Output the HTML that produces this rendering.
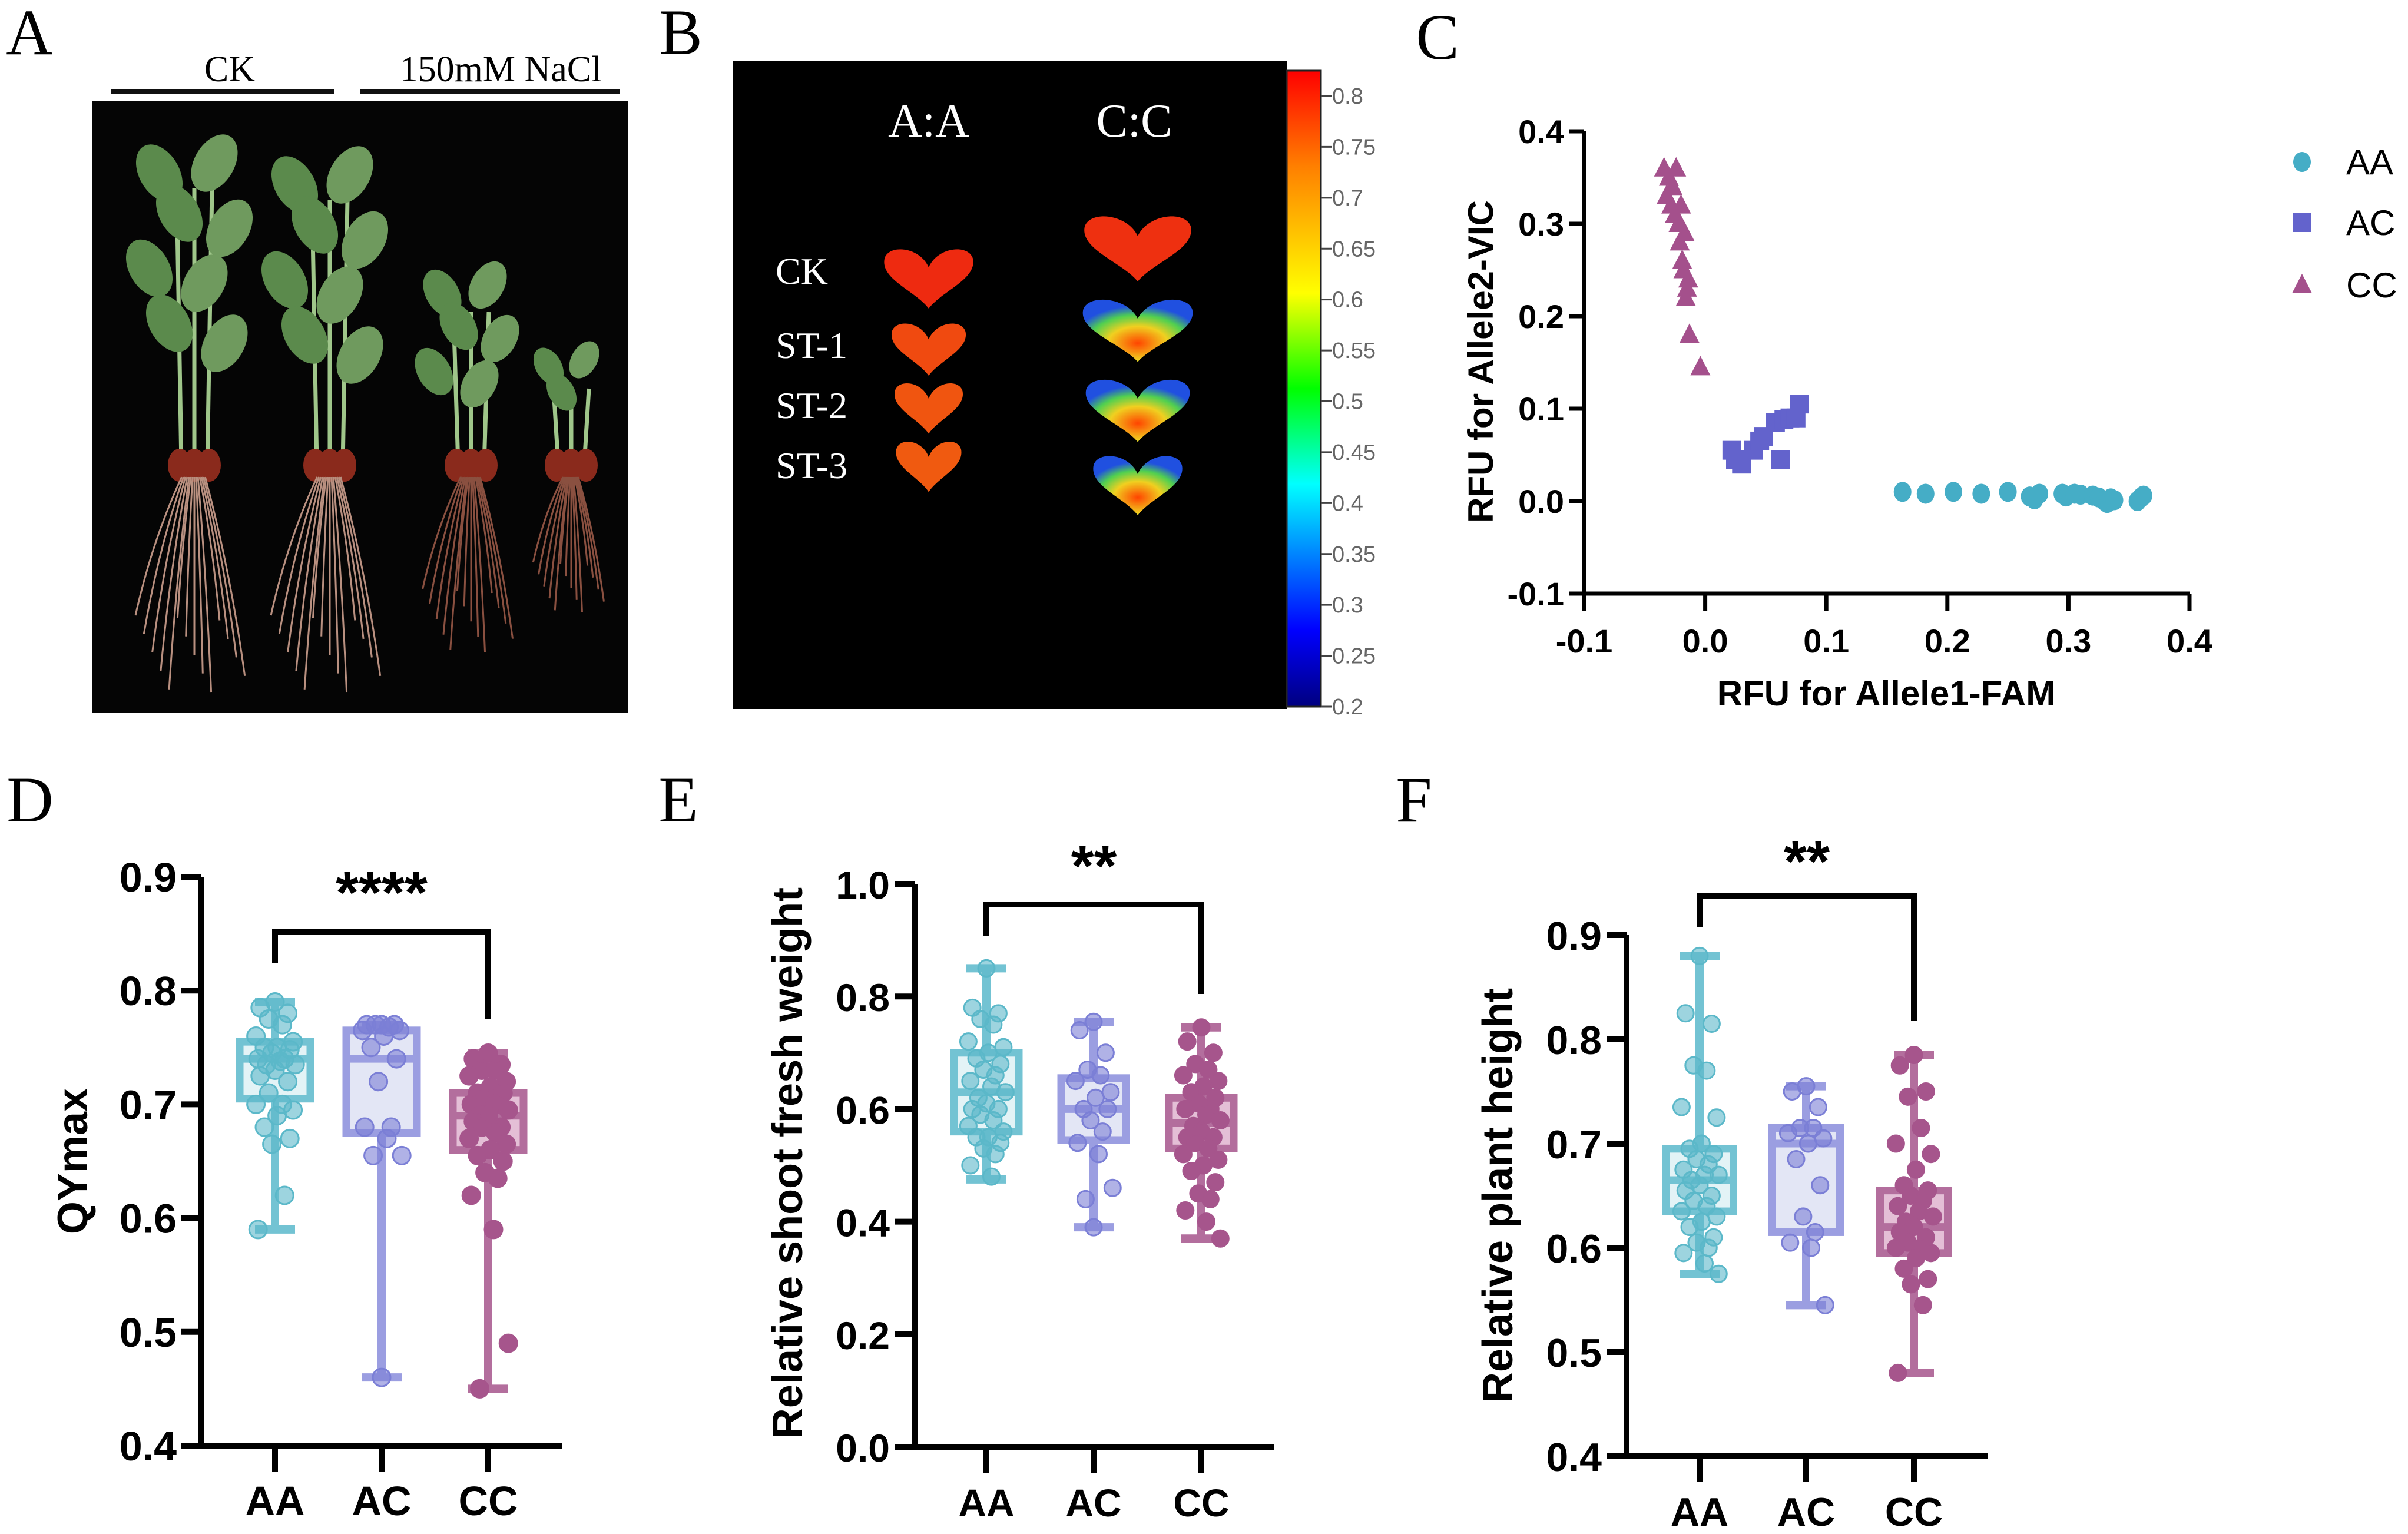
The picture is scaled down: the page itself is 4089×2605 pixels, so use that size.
<!DOCTYPE html>
<html><head><meta charset="utf-8"><style>
html,body{margin:0;padding:0;background:#fff}
svg{display:block}
text{font-family:"Liberation Sans",Arial,sans-serif}
.serif{font-family:"Liberation Serif","Times New Roman",serif}
</style></head><body>
<svg id="fig" width="4089" height="2605" viewBox="0 0 4089 2605" xmlns="http://www.w3.org/2000/svg">
<rect width="4089" height="2605" fill="#fff"/>
<defs>
<clipPath id="photoClip"><rect x="156" y="171" width="911" height="1039"/></clipPath>
<linearGradient id="jet" x1="0" y1="1" x2="0" y2="0">
<stop offset="0" stop-color="#00007f"/><stop offset="0.12" stop-color="#0000ff"/><stop offset="0.35" stop-color="#00ffff"/><stop offset="0.5" stop-color="#00ff00"/><stop offset="0.65" stop-color="#ffff00"/><stop offset="0.85" stop-color="#ff7f00"/><stop offset="1" stop-color="#ff0000"/>
</linearGradient>
<radialGradient id="stleaf" cx="0.5" cy="0.7" r="0.6">
<stop offset="0" stop-color="#ff4400"/><stop offset="0.45" stop-color="#f0d020"/><stop offset="0.75" stop-color="#50d050"/><stop offset="1" stop-color="#2050e0"/>
</radialGradient>
</defs>
<!-- Panel A -->
<g>
<text class="serif" x="50" y="92" font-size="110" text-anchor="middle">A</text>
<text class="serif" x="390" y="138" font-size="62" text-anchor="middle">CK</text>
<line x1="188" y1="155" x2="568" y2="155" stroke="#111" stroke-width="8"/>
<text class="serif" x="850" y="138" font-size="62" text-anchor="middle">150mM NaCl</text>
<line x1="612" y1="155" x2="1053" y2="155" stroke="#111" stroke-width="8"/>
<rect x="156" y="171" width="911" height="1039" fill="#050505"/>
<g id="plants" clip-path="url(#photoClip)"></g>
</g>
<!-- Panel B -->
<g>
<text class="serif" x="1156" y="92" font-size="110" text-anchor="middle">B</text>
<rect x="1245" y="104" width="940" height="1100" fill="#000"/>
<text class="serif" x="1577" y="232" font-size="80" fill="#fff" text-anchor="middle">A:A</text>
<text class="serif" x="1926" y="232" font-size="80" fill="#fff" text-anchor="middle">C:C</text>
<text class="serif" x="1317" y="482" font-size="64" fill="#fff">CK</text>
<text class="serif" x="1317" y="608" font-size="64" fill="#fff">ST-1</text>
<text class="serif" x="1317" y="710" font-size="64" fill="#fff">ST-2</text>
<text class="serif" x="1317" y="812" font-size="64" fill="#fff">ST-3</text>
<g id="leaves"></g>
<rect x="2185" y="120" width="58" height="1080" fill="url(#jet)" stroke="#222" stroke-width="3"/>
<g id="cbticks"></g>
</g>
<g id="panelC">
<text class="serif" x="2441" y="100" font-size="110" text-anchor="middle">C</text>
</g>
<g id="panelD">
<text class="serif" x="51" y="1395" font-size="110" text-anchor="middle">D</text>
</g>
<g id="panelE">
<text class="serif" x="1152" y="1395" font-size="110" text-anchor="middle">E</text>
</g>
<g id="panelF">
<text class="serif" x="2401" y="1395" font-size="110" text-anchor="middle">F</text>
</g>
</svg>
<script>
const aaX=[0.163,0.182,0.205,0.228,0.25,0.268,0.272,0.276,0.295,0.298,0.305,0.31,0.32,0.325,0.33,0.332,0.335,0.338,0.357,0.36,0.362];
const aaY=[0.01,0.008,0.01,0.008,0.01,0.005,0.002,0.008,0.008,0.005,0.008,0.007,0.006,0.004,0.0,-0.002,0.003,0.001,0.0,0.004,0.006];
const acX=[0.022,0.025,0.03,0.04,0.045,0.048,0.058,0.062,0.065,0.07,0.075,0.078];
const acY=[0.055,0.045,0.04,0.055,0.065,0.07,0.085,0.045,0.088,0.09,0.09,0.105];
const ccX=[-0.034,-0.032,-0.03,-0.028,-0.027,-0.025,-0.024,-0.022,-0.021,-0.02,-0.019,-0.018,-0.017,-0.016,-0.015,-0.014,-0.013,-0.004];
const ccY=[0.36,0.33,0.35,0.32,0.34,0.31,0.36,0.30,0.28,0.32,0.26,0.25,0.29,0.22,0.23,0.24,0.18,0.145];
const cTicks=[-0.1,0.0,0.1,0.2,0.3,0.4];
const cTickLabels=["-0.1","0.0","0.1","0.2","0.3","0.4"];
const groups=["AA","AC","CC"];
const dAA=[0.79,0.785,0.78,0.775,0.77,0.76,0.755,0.75,0.75,0.748,0.745,0.74,0.74,0.738,0.735,0.735,0.73,0.725,0.72,0.71,0.70,0.70,0.695,0.69,0.68,0.67,0.665,0.62,0.59];
const dAC=[0.77,0.77,0.77,0.77,0.768,0.765,0.765,0.76,0.75,0.74,0.72,0.68,0.68,0.67,0.655,0.655,0.46];
const dCC=[0.745,0.74,0.735,0.73,0.73,0.725,0.72,0.715,0.71,0.71,0.705,0.70,0.70,0.70,0.695,0.69,0.69,0.685,0.68,0.68,0.675,0.67,0.665,0.66,0.655,0.65,0.64,0.635,0.62,0.59,0.49,0.45];
const dMin=[0.59,0.46,0.45], dQ1=[0.705,0.675,0.66], dMed=[0.74,0.74,0.69], dQ3=[0.755,0.765,0.71], dMax=[0.79,0.77,0.745];
const dTicks=[0.4,0.5,0.6,0.7,0.8,0.9];
const dTickLabels=["0.4","0.5","0.6","0.7","0.8","0.9"];
const eAA=[0.85,0.78,0.77,0.76,0.75,0.72,0.71,0.70,0.69,0.68,0.67,0.66,0.65,0.64,0.63,0.62,0.61,0.60,0.60,0.59,0.58,0.57,0.56,0.55,0.55,0.54,0.53,0.52,0.50,0.48];
const eAC=[0.755,0.74,0.70,0.67,0.66,0.65,0.63,0.62,0.60,0.60,0.58,0.56,0.54,0.52,0.46,0.44,0.39];
const eCC=[0.745,0.72,0.70,0.68,0.67,0.66,0.65,0.64,0.63,0.62,0.61,0.60,0.60,0.59,0.58,0.57,0.56,0.55,0.55,0.54,0.53,0.52,0.51,0.50,0.49,0.47,0.45,0.44,0.42,0.40,0.37];
const eMin=[0.475,0.39,0.37], eQ1=[0.56,0.545,0.53], eMed=[0.63,0.60,0.575], eQ3=[0.70,0.655,0.62], eMax=[0.85,0.755,0.745];
const eTicks=[0.0,0.2,0.4,0.6,0.8,1.0];
const eTickLabels=["0.0","0.2","0.4","0.6","0.8","1.0"];
const fAA=[0.88,0.825,0.815,0.775,0.77,0.735,0.725,0.70,0.695,0.69,0.685,0.68,0.675,0.67,0.67,0.665,0.66,0.655,0.65,0.645,0.64,0.635,0.63,0.625,0.62,0.61,0.605,0.60,0.595,0.585,0.575];
const fAC=[0.755,0.75,0.735,0.715,0.715,0.71,0.705,0.70,0.685,0.66,0.63,0.615,0.605,0.60,0.545];
const fCC=[0.785,0.775,0.75,0.745,0.715,0.70,0.69,0.675,0.66,0.655,0.65,0.645,0.64,0.635,0.63,0.625,0.62,0.615,0.61,0.605,0.60,0.60,0.595,0.59,0.58,0.57,0.565,0.545,0.48];
const fMin=[0.575,0.545,0.48], fQ1=[0.635,0.615,0.595], fMed=[0.665,0.70,0.62], fQ3=[0.695,0.715,0.655], fMax=[0.88,0.755,0.785];
const fTicks=[0.4,0.5,0.6,0.7,0.8,0.9];
const fTickLabels=["0.4","0.5","0.6","0.7","0.8","0.9"];
const cbTicks=[0.8,0.75,0.7,0.65,0.6,0.55,0.5,0.45,0.4,0.35,0.3,0.25,0.2];

const NS="http://www.w3.org/2000/svg";
function mk(tag,attrs,parent){const e=document.createElementNS(NS,tag);for(const k in attrs)e.setAttribute(k,attrs[k]);parent.appendChild(e);return e;}
function txt(s,attrs,parent){const e=mk('text',attrs,parent);e.textContent=s;return e;}

(function(){
 const g=document.getElementById('plants');
 const plants=[{x:330,top:260,s:0.85},{x:560,top:280,s:0.85},{x:800,top:470,s:0.7},{x:970,top:600,s:0.55}];
 plants.forEach((p,i)=>{
  const seedY=790;
  for(let k=-1;k<=1;k++){
   const st=mk('line',{x1:p.x+k*22,y1:seedY,x2:p.x+k*30,y2:p.top+60,stroke:'#9fc68a','stroke-width':7},g);
   
   
  }
  const lf=[[-70,40],[40,20],[-30,120],[70,150],[-90,230],[20,260],[-50,340],[60,380]];
  lf.forEach((o,j)=>{
   const y=p.top+o[1]*p.s; if(y>seedY-120)return;
   const l=mk('ellipse',{cx:p.x+o[0]*p.s,cy:y,rx:40*p.s,ry:62*p.s,fill:j%2?'#6f9a5e':'#5b8a4c',transform:`rotate(${o[0]>0?30:-30} ${p.x+o[0]*p.s} ${y})`},g);
   
   
  });
  for(let k=-1;k<=1;k++){
   const s=mk('ellipse',{cx:p.x+k*25,cy:seedY,rx:20,ry:28,fill:'#8a2a1c'},g);
   
   
  }
  for(let r=0;r<14;r++){
   const dx=(r-7)*12*p.s, len=(300+((r*37)%180))*p.s;
   const rt=mk('path',{d:`M${p.x+dx*0.3},${seedY+20} Q${p.x+dx},${seedY+len*0.5} ${p.x+dx*1.4},${seedY+len}`,stroke:i<2?'#b99080':'#8a5040',fill:'none','stroke-width':3},g);
   
   
  }
 });
})();

(function(){
 const g=document.getElementById('leaves');
 const L=[[1577,474,150,100,'#ee2a10'],[1577,594,125,88,'#f04a10'],[1577,694,115,85,'#f05510'],[1577,793,110,85,'#f05a10'],
          [1932,423,180,110,'#ee3010'],[1932,562,185,105,'url(#stleaf)'],[1932,698,175,105,'url(#stleaf)'],[1932,825,150,100,'url(#stleaf)']];
 L.forEach(l=>{
  const [cx,cy,w,h,f]=l;
  const p=mk('path',{d:`M${cx},${cy+h/2} C${cx-w*0.15},${cy+h*0.2} ${cx-w*0.55},${cy} ${cx-w/2},${cy-h*0.35} C${cx-w*0.45},${cy-h*0.6} ${cx-w*0.1},${cy-h*0.55} ${cx},${cy-h*0.2} C${cx+w*0.1},${cy-h*0.55} ${cx+w*0.45},${cy-h*0.6} ${cx+w/2},${cy-h*0.35} C${cx+w*0.55},${cy} ${cx+w*0.15},${cy+h*0.2} ${cx},${cy+h/2}Z`,fill:f},g);
  
  
 });
 const t=document.getElementById('cbticks');
 const y08=163,y02=1200;
 cbTicks.forEach(v=>{
  const y=y02-(v-0.2)/0.6*(y02-y08);
  const ln=mk('line',{x1:2243,y1:y,x2:2262,y2:y,stroke:'#444','stroke-width':3},t);
  
  
  const tx=txt(String(v),{x:2262,y:y+13,'font-size':38,fill:'#666'},t);
  
  
 });
})();

(function(){
 const g=document.getElementById('panelC');
 const X0=2690,X1=3718,Y0=1008,Y1=223;
 const sx=v=>X0+(v+0.1)/0.5*(X1-X0), sy=v=>Y0-(v+0.1)/0.5*(Y0-Y1);
 const ax=mk('path',{d:`M${X0},${Y1} V${Y0} H${X1}`,stroke:'#000','stroke-width':7,fill:'none'},g);
 
 
 cTicks.forEach((v,i)=>{
  const t1=mk('line',{x1:X0-26,y1:sy(v),x2:X0,y2:sy(v),stroke:'#000','stroke-width':7},g);
  
  
  const l1=txt(cTickLabels[i],{x:X0-34,y:sy(v)+20,'font-size':56,'font-weight':'bold','text-anchor':'end'},g);
  
  
  const t2=mk('line',{x1:sx(v),y1:Y0,x2:sx(v),y2:Y0+30,stroke:'#000','stroke-width':7},g);
  
  
  const l2=txt(cTickLabels[i],{x:sx(v),y:Y0+100,'font-size':56,'font-weight':'bold','text-anchor':'middle'},g);
  
  
 });
 const xt=txt('RFU for Allele1-FAM',{x:3203,y:1198,'font-size':60,'font-weight':'bold','text-anchor':'middle'},g);
 
 
 const yt=txt('RFU for Allele2-VIC',{x:0,y:0,'font-size':60,'font-weight':'bold','text-anchor':'middle',transform:'translate(2535,614) rotate(-90)'},g);
 
 
 const col={AA:'#45adc6',AC:'#6363cc',CC:'#a4508c'};
 function circ(x,y,p){return mk('ellipse',{cx:x,cy:y,rx:15,ry:17,fill:col.AA},p);}
 function sq(x,y,p){return mk('rect',{x:x-16,y:y-16,width:32,height:32,fill:col.AC},p);}
 function tri(x,y,p){return mk('path',{d:`M${x},${y-19} L${x+17},${y+14} L${x-17},${y+14}Z`,fill:col.CC},p);}
 aaX.forEach((v,i)=>{const e=circ(sx(v),sy(aaY[i]),g);});
 acX.forEach((v,i)=>{const e=sq(sx(v),sy(acY[i]),g);});
 ccX.forEach((v,i)=>{const e=tri(sx(v),sy(ccY[i]),g);});
 const legY=[275,378,484], fns=[circ,sq,tri];
 groups.forEach((gname,i)=>{
  const m=fns[i](3909,legY[i],g);
  
  
  const t=txt(gname,{x:3984,y:legY[i]+21,'font-size':60},g);
  
  
 });
})();

const boxCol=[{s:'#5bb9cc',f:'#dff2f5',p:'#5bb8c9',po:0.6},{s:'#8a8edc',f:'#dfe2f4',p:'#7b7fd6',po:0.6},{s:'#a6558c',f:'#e0b5cf',p:'#a6558c',po:1}];
const jit=[0,-0.7,0.6,-0.3,0.35,-0.9,0.85,0.1,-0.5,0.7,-0.15,0.45,-0.8,0.25,0.95,-0.4];
function boxPanel(id,cfg,pts,mins,q1s,meds,q3s,maxs,ticks,tickLabels,ytitle,stars){
 const g=document.getElementById(id);
 const {ax,x1,yTop,yBot,vTop,vBot,cats,r,bw,br,tfs}=cfg;
 const sy=v=>yBot-(v-vBot)/(vTop-vBot)*(yBot-yTop);
 const a=mk('path',{d:`M${ax},${yTop} V${yBot} H${x1}`,stroke:'#000','stroke-width':10,fill:'none'},g);
 
 
 ticks.forEach((v,i)=>{
  const t=mk('line',{x1:ax-34,y1:sy(v),x2:ax,y2:sy(v),stroke:'#000','stroke-width':10},g);
  
  
  const l=txt(tickLabels[i],{x:ax-42,y:sy(v)+25,'font-size':tfs,'font-weight':'bold','text-anchor':'end'},g);
  
  
 });
 cats.forEach((cx,i)=>{
  const t=mk('line',{x1:cx,y1:yBot,x2:cx,y2:yBot+44,stroke:'#000','stroke-width':10},g);
  
  
  const l=txt(groups[i],{x:cx,y:yBot+118,'font-size':tfs,'font-weight':'bold','text-anchor':'middle'},g);
  
  
  const c=boxCol[i];
  const bg=mk('g',{opacity:0.85},g);
  
  
  const w=mk('line',{x1:cx,y1:sy(maxs[i]),x2:cx,y2:sy(mins[i]),stroke:c.s,'stroke-width':14},bg);
  
  
  [maxs[i],mins[i]].forEach(v=>{
   const cap=mk('line',{x1:cx-34,y1:sy(v),x2:cx+34,y2:sy(v),stroke:c.s,'stroke-width':14},bg);
   
   
  });
  const b=mk('rect',{x:cx-bw/2,y:sy(q3s[i]),width:bw,height:sy(q1s[i])-sy(q3s[i]),fill:c.f,stroke:c.s,'stroke-width':13},bg);
  
  
  const m=mk('line',{x1:cx-bw/2,y1:sy(meds[i]),x2:cx+bw/2,y2:sy(meds[i]),stroke:c.s,'stroke-width':13},bg);
  
  
  pts[i].forEach((v,k)=>{
   const p=mk('circle',{cx:cx+jit[k%jit.length]*br,cy:sy(v),r:r,fill:c.p,'fill-opacity':c.po,stroke:c.p,'stroke-width':3},g);
   
   
  });
 });
 const yt=txt(ytitle,{x:0,y:0,'font-size':cfg.yfs,'font-weight':'bold','text-anchor':'middle',transform:`translate(${cfg.ytx},${cfg.yty}) rotate(-90)`},g);
 
 
 const br2=mk('path',{d:`M${cats[0]},${cfg.bL} V${cfg.bTop} H${cats[2]} V${cfg.bR}`,stroke:'#000','stroke-width':10,fill:'none'},g);
 
 
 const st=txt(stars,{x:(cats[0]+cats[2])/2,y:cfg.sy,'font-size':100,'font-weight':'bold','text-anchor':'middle'},g);
 
 
}
boxPanel('panelD',{ax:342,x1:954,yTop:1489,yBot:2455,vTop:0.9,vBot:0.4,cats:[467,648,829],r:15,bw:120,br:36,tfs:70,yfs:72,ytx:148,yty:1972,bL:1636,bTop:1582,bR:1731,sy:1550},
 [dAA,dAC,dCC],dMin,dQ1,dMed,dQ3,dMax,dTicks,dTickLabels,'QYmax','****');
boxPanel('panelE',{ax:1553,x1:2163,yTop:1501,yBot:2457,vTop:1.0,vBot:0.0,cats:[1675,1857,2040],r:14,bw:110,br:34,tfs:66,yfs:72,ytx:1362,yty:1975,bL:1590,bTop:1536,bR:1688,sy:1505},
 [eAA,eAC,eCC],eMin,eQ1,eMed,eQ3,eMax,eTicks,eTickLabels,'Relative shoot fresh weight','**');
boxPanel('panelF',{ax:2762,x1:3376,yTop:1588,yBot:2473,vTop:0.9,vBot:0.4,cats:[2886,3067,3250],r:14,bw:115,br:34,tfs:68,yfs:72,ytx:2568,yty:2030,bL:1574,bTop:1522,bR:1733,sy:1497},
 [fAA,fAC,fCC],fMin,fQ1,fMed,fQ3,fMax,fTicks,fTickLabels,'Relative plant height','**');
</script>
</body></html>
